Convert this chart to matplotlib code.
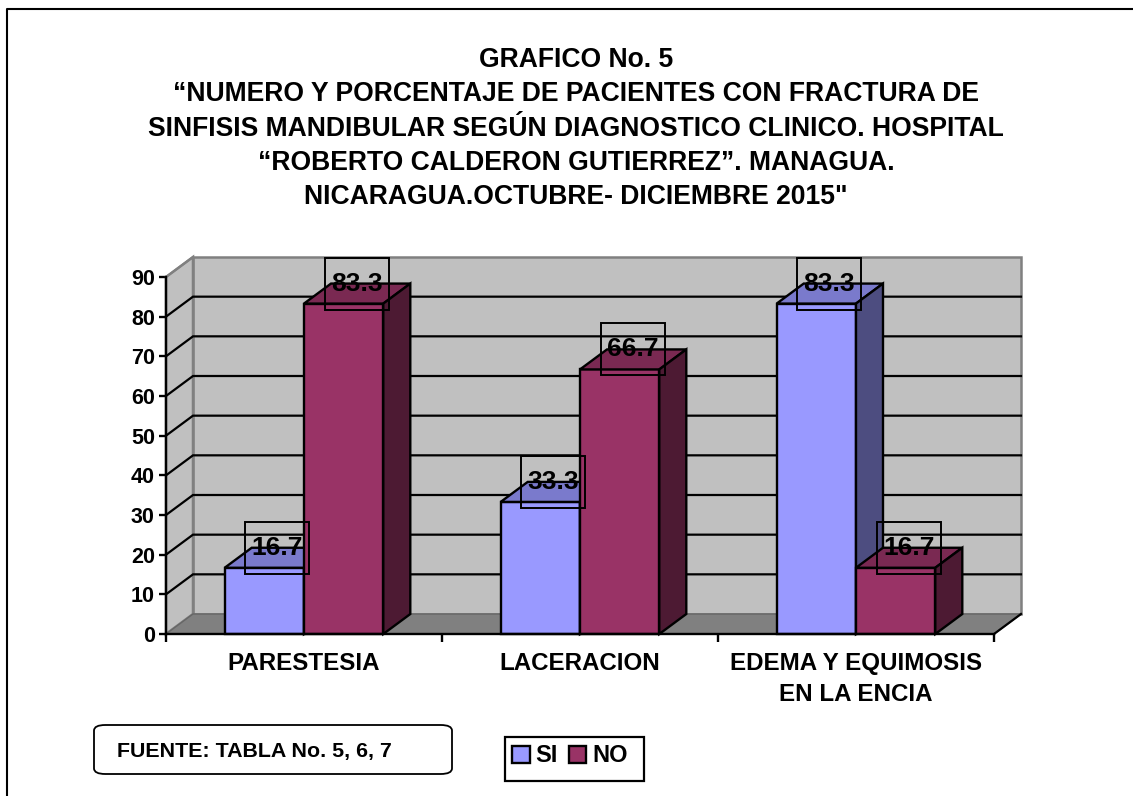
import matplotlib
matplotlib.use("Agg")
import matplotlib.pyplot as plt
from matplotlib.lines import Line2D
from matplotlib.patches import Polygon, Rectangle, FancyBboxPatch, Patch

plt.rcParams['font.family'] = ['Liberation Sans', 'DejaVu Sans']

title_lines = ["GRAFICO No. 5",
               "“NUMERO Y PORCENTAJE DE PACIENTES CON FRACTURA DE",
               "SINFISIS MANDIBULAR SEGÚN DIAGNOSTICO CLINICO. HOSPITAL",
               "“ROBERTO CALDERON GUTIERREZ”. MANAGUA.",
               "NICARAGUA.OCTUBRE- DICIEMBRE 2015\""]
categories = ["PARESTESIA", "LACERACION", "EDEMA Y EQUIMOSIS\nEN LA ENCIA"]
series_names = ["SI", "NO"]
si_values = [16.7, 33.3, 83.3]
no_values = [83.3, 66.7, 16.7]
y_ticks = [0, 10, 20, 30, 40, 50, 60, 70, 80, 90]
source_text = "FUENTE: TABLA No. 5, 6, 7"

W, H = 1133, 796
fig = plt.figure(figsize=(W / 100, H / 100), dpi=100)
fig.patch.set_facecolor("white")

fig.add_artist(Line2D([7 / W, 7 / W, 1], [0, 1 - 9 / H, 1 - 9 / H],
                      color="black", lw=1.5, transform=fig.transFigure))

L, R, T, B = 166, 994, 277, 634
ax = fig.add_axes([L / W, 1 - B / H, (R - L) / W, (B - T) / H])
ax.set_xlim(0, 3)
ax.set_ylim(0, 90)
ax.patch.set_visible(False)
px_x = 3 / (R - L)
px_y = 90 / (B - T)
dx, dy = 27 * px_x, 20 * px_y

GREY = "#808080"
ax.add_patch(Polygon([(dx, dy), (3 + dx, dy), (3 + dx, 90 + dy), (dx, 90 + dy)],
                     fc="#C0C0C0", ec=GREY, lw=1.8, zorder=1, clip_on=False))
ax.add_patch(Polygon([(0, 0), (dx, dy), (dx, 90 + dy), (0, 90)],
                     fc="#C0C0C0", ec=GREY, lw=1.8, zorder=1, clip_on=False))
ax.add_patch(Polygon([(0, 0), (3, 0), (3 + dx, dy), (dx, dy)],
                     fc=GREY, ec="#666666", lw=1.0, zorder=1, clip_on=False))
for v in y_ticks[1:-1]:
    ax.plot([0, dx, 3 + dx], [v, v + dy, v + dy], color="black", lw=1.6,
            zorder=2, clip_on=False, solid_joinstyle="miter")
ax.plot([0, dx], [90, 90 + dy], color=GREY, lw=1.5, zorder=2, clip_on=False)
ax.plot([3, 3 + dx], [0, dy], color="black", lw=1.6, zorder=2, clip_on=False)

offset = 58.7 * px_x
bw = 79.3 * px_x
def bar3d(x0, v, front, top, side, z):
    x1 = x0 + bw
    kw = dict(ec="black", lw=1.7, zorder=z, clip_on=False, joinstyle="miter")
    ax.add_patch(Polygon([(x0, 0), (x1, 0), (x1, v), (x0, v)], fc=front, **kw))
    ax.add_patch(Polygon([(x0, v), (x1, v), (x1 + dx, v + dy), (x0 + dx, v + dy)], fc=top, **kw))
    ax.add_patch(Polygon([(x1, 0), (x1 + dx, dy), (x1 + dx, v + dy), (x1, v)], fc=side, **kw))

SI_C = ("#9999FF", "#7A7ACC", "#4D4D80")
NO_C = ("#993366", "#7A2952", "#4D1A33")
z = 3
for i in range(len(categories)):
    bar3d(i + offset, si_values[i], *SI_C, z)
    bar3d(i + offset + bw, no_values[i], *NO_C, z + 1)
    z += 2

for i in range(len(categories)):
    for j, v in enumerate((si_values[i], no_values[i])):
        cx = i + offset + bw * (j + 0.5) + 13 * px_x
        cy = v + dy
        ax.add_patch(Rectangle((cx - 32 * px_x, cy - 26 * px_y), 64 * px_x, 52 * px_y,
                               fc="none", ec="black", lw=1.4, zorder=20, clip_on=False))
        ax.text(cx, cy, f"{v:.1f}", ha="center", va="center", fontsize=19,
                fontweight="bold", color="black", zorder=21)

for s in ("top", "right"):
    ax.spines[s].set_visible(False)
for s in ("left", "bottom"):
    ax.spines[s].set_linewidth(1.7)
    ax.spines[s].set_zorder(15)
ax.set_yticks(y_ticks)
ax.set_yticklabels([str(v) for v in y_ticks], fontsize=15.5, fontweight="bold")
ax.set_xticks(range(len(categories) + 1))
ax.set_xticklabels([""] * (len(categories) + 1))
ax.set_xticks([i + 0.5 for i in range(len(categories))], minor=True)
ax.set_xticklabels(categories, minor=True, fontsize=17.4, fontweight="bold",
                   linespacing=1.45)
ax.tick_params(axis="y", length=5, width=1.7, pad=3)
ax.tick_params(axis="x", which="major", length=6, width=1.7)
ax.tick_params(axis="x", which="minor", length=0, pad=13)

for txt, y in zip(title_lines, [60, 94, 129, 163, 197]):
    fig.text(576 / W, 1 - y / H, txt, ha="center", va="center", fontsize=19.1,
             fontweight="bold", color="black")

fig.add_artist(FancyBboxPatch((94 / W, 1 - 774 / H), 358 / W, 49 / H,
                              boxstyle="round,pad=0,rounding_size=0.01",
                              transform=fig.transFigure, fc="white", ec="black", lw=1.3,
                              mutation_aspect=H / W))
fig.text(117 / W, 1 - 752 / H, source_text, ha="left", va="center", fontsize=15.4,
         fontweight="bold", color="black")

# Legend: frame and entries
fig.add_artist(Rectangle((505 / W, 1 - 781 / H), 139 / W, 44 / H, transform=fig.transFigure,
                         fc="white", ec="black", lw=1.6))
handles = [Patch(fc=SI_C[0], ec="black", lw=1.7), Patch(fc=NO_C[0], ec="black", lw=1.7)]
leg = fig.legend(handles, series_names, ncol=2, loc="center",
                 bbox_to_anchor=(570 / W, 1 - 756 / H), fontsize=17,
                 frameon=False,
                 handlelength=0.75, handleheight=0.75, handletextpad=0.25,
                 columnspacing=0.45, borderpad=0, borderaxespad=0)
for t in leg.get_texts():
    t.set_fontweight("bold")

fig.savefig("out.png", dpi=100, facecolor="white")
